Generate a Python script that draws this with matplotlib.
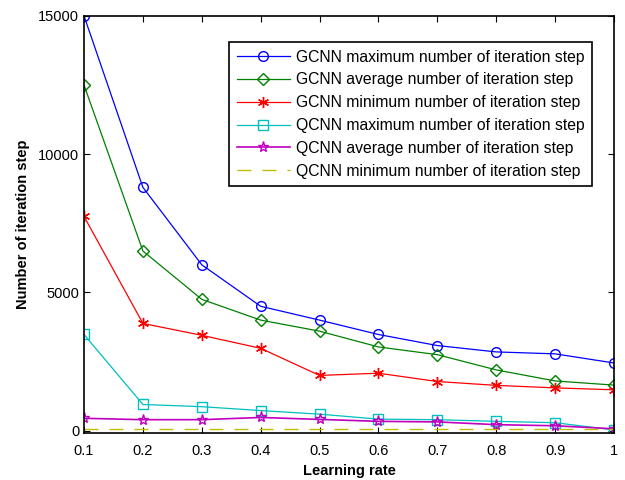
import matplotlib
matplotlib.use("Agg")
import matplotlib.pyplot as plt

plt.rcParams['font.family'] = ['Liberation Sans', 'DejaVu Sans']

learning_rate = [0.1, 0.2, 0.3, 0.4, 0.5, 0.6, 0.7, 0.8, 0.9, 1.0]
xtick_labels = ['0.1', '0.2', '0.3', '0.4', '0.5', '0.6', '0.7', '0.8', '0.9', '1']

gcnn_max = [15000, 8800, 6000, 4500, 4000, 3480, 3080, 2850, 2780, 2450]
gcnn_avg = [12500, 6500, 4750, 4000, 3600, 3030, 2750, 2200, 1800, 1650]
gcnn_min = [7750, 3880, 3450, 2980, 2000, 2080, 1780, 1640, 1550, 1480]
qcnn_max = [3480, 950, 870, 730, 600, 420, 400, 340, 290, 30]
qcnn_avg = [450, 400, 400, 480, 410, 340, 320, 220, 180, 70]
qcnn_min = [50, 50, 50, 50, 50, 50, 50, 50, 50, 50]

names = ['GCNN maximum number of iteration step',
         'GCNN average number of iteration step',
         'GCNN minimum number of iteration step',
         'QCNN maximum number of iteration step',
         'QCNN average number of iteration step',
         'QCNN minimum number of iteration step']

fig = plt.figure(figsize=(6.25, 4.8), dpi=100)
ax = fig.add_axes([0.1344, 0.098, 0.848, 0.869])

ms = 7
asterisk = (6, 2, 0)
ax.plot(learning_rate, gcnn_max, color='#0000ff', marker='o', mfc='none', ms=ms, lw=0.9, label=names[0])
ax.plot(learning_rate, gcnn_avg, color='#008000', marker='D', mfc='none', ms=ms - 1, lw=0.9, label=names[1])
ax.plot(learning_rate, gcnn_min, color='#ff0000', marker=asterisk, ms=ms + 1, mew=1.0, lw=0.9, label=names[2])
ax.plot(learning_rate, qcnn_max, color='#00bfbf', marker='s', mfc='none', ms=ms, lw=0.9, label=names[3])
ax.plot(learning_rate, qcnn_avg, color='#bf00bf', marker='*', mfc='none', ms=ms + 1, lw=1.2, label=names[4])
ax.plot(learning_rate, qcnn_min, color='#bfbf00', ls=(0, (10, 8)), lw=1.0, label=names[5])

ax.set_xlim(0.1, 1.0)
ax.set_ylim(-80, 15000)
ax.set_xticks(learning_rate)
ax.set_xticklabels(xtick_labels)
ax.set_yticks([0, 5000, 10000, 15000])
ax.tick_params(direction='in', top=True, right=True, labelsize=10.5, length=4)
ax.tick_params(axis='x', pad=8)
for s in ax.spines.values():
    s.set_linewidth(1.2)

ax.set_xlabel('Learning rate', fontsize=10.5, fontweight='bold', labelpad=4)
ax.set_ylabel('Number of iteration step', fontsize=10.5, fontweight='bold', labelpad=6)

leg = ax.legend(loc='upper right', bbox_to_anchor=(0.973, 0.955), fontsize=11.3,
                handlelength=3.4, fancybox=False, framealpha=1, edgecolor='black',
                borderpad=0.45, labelspacing=0.5, handletextpad=0.4)
leg.get_frame().set_linewidth(1.2)

fig.savefig('out.png', dpi=100)
